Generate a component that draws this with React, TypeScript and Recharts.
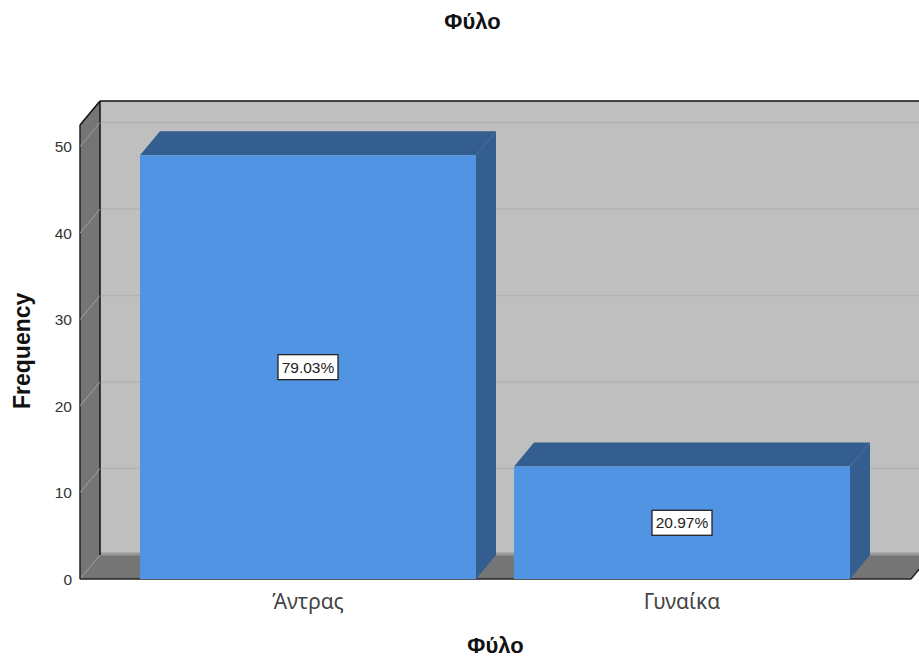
import {
  Bar,
  BarChart,
  LabelList,
  ReferenceArea,
  ReferenceLine,
  XAxis,
  YAxis,
} from "recharts";

const categories = ["Άντρας", "Γυναίκα"];
const frequencies = [49, 13];
const percentLabels = ["79.03%", "20.97%"];
const yTicks = [0, 10, 20, 30, 40, 50];
const yMax = 52.5;

const data = categories.map((name, i) => ({
  name,
  frequency: frequencies[i],
  percent: percentLabels[i],
}));

const FONT = '"Liberation Sans", Arial, sans-serif';
const TICK_FONT = '"Noto Sans", "Liberation Sans", sans-serif';
// depth of the fake 3D box
const DX = 20;
const DY = 24;
// category axis padding, the walls have to span it too
const PAD_LEFT = 41;
const PAD_RIGHT = 42;

function pts(list: number[][]) {
  return list.map((p) => p.join(",")).join(" ");
}

// walls and floor of the box
function Walls({ x: plotX, y, width: plotW, height }: any) {
  const x = plotX - PAD_LEFT;
  const right = plotX + plotW + PAD_RIGHT;
  const bottom = y + height;
  return (
    <g>
      <polygon
        points={pts([
          [x + DX, y - DY],
          [right + DX, y - DY],
          [right + DX, bottom - DY],
          [x + DX, bottom - DY],
        ])}
        fill="#bfbfbf"
      />
      <polygon
        points={pts([
          [x, y],
          [x + DX, y - DY],
          [x + DX, bottom - DY],
          [x, bottom],
        ])}
        fill="#757575"
      />
      <polygon
        points={pts([
          [x, bottom],
          [x + DX, bottom - DY],
          [right + DX, bottom - DY],
          [right, bottom],
        ])}
        fill="#757575"
      />
      <line x1={x + DX} x2={right + DX} y1={bottom - DY - 1} y2={bottom - DY - 1} stroke="#999" strokeWidth={3} />
      <line x1={x} x2={x + DX} y1={bottom} y2={bottom - DY} stroke="#9a9a9a" />
      <line x1={x + DX} x2={right + DX} y1={y - DY} y2={y - DY} stroke="#111" strokeWidth={1.5} />
      <line x1={x} x2={x + DX} y1={y} y2={y - DY} stroke="#111" strokeWidth={1.5} />
      <line x1={x} x2={x} y1={y} y2={bottom} stroke="#222" strokeWidth={1.5} />
      <line x1={x + DX} x2={x + DX} y1={y - DY} y2={bottom - DY} stroke="#111" strokeWidth={1.5} />
      <line x1={x} x2={right} y1={bottom} y2={bottom} stroke="#222" strokeWidth={1.5} />
      <line x1={right} x2={right + DX} y1={bottom} y2={bottom - DY} stroke="#222" strokeWidth={1.5} />
    </g>
  );
}

function GridLineShape({ x1, x2, y1 }: any) {
  return (
    <g>
      <line x1={x1} x2={x1 + DX} y1={y1} y2={y1 - DY} stroke="#a0a0a0" />
      <line x1={x1 + DX + 1} x2={x2 + DX} y1={y1 - DY} y2={y1 - DY} stroke="#b2b2b2" strokeWidth={1.5} />
    </g>
  );
}

function Box3D({ x, y, width, height }: any) {
  const right = x + width;
  const bottom = y + height;
  return (
    <g>
      <polygon
        points={pts([
          [x, y],
          [x + DX, y - DY],
          [right + DX, y - DY],
          [right, y],
        ])}
        fill="#345d90"
      />
      <polygon
        points={pts([
          [right, y],
          [right + DX, y - DY],
          [right + DX, bottom - DY],
          [right, bottom],
        ])}
        fill="#345d90"
      />
      <rect x={x} y={y} width={width} height={height} fill="#5294e4" />
    </g>
  );
}

function PercentBox({ x, y, width, height, value }: any) {
  const cx = x + width / 2;
  const cy = y + height / 2;
  return (
    <g>
      <rect x={cx - 30} y={cy - 12.5} width={60} height={25} fill="#fff" stroke="#222" strokeWidth={1.3} />
      <text x={cx} y={cy + 5.5} textAnchor="middle" fontFamily={FONT} fontSize={15.5} fill="#222">
        {value}
      </text>
    </g>
  );
}

export default function App() {
  return (
    <div style={{ position: "absolute", left: 0, top: 0, width: 919, height: 658, background: "#fff" }}>
      <div
        style={{
          position: "absolute",
          left: 0,
          width: 945,
          top: 9,
          textAlign: "center",
          fontFamily: FONT,
          fontWeight: "bold",
          fontSize: 22,
          color: "#111",
        }}
      >
        Φύλο
      </div>
      <BarChart
        width={919}
        height={658}
        data={data}
        margin={{ top: 125, right: 8, bottom: 0, left: 0 }}
        barSize={336}
      >
        <XAxis
          dataKey="name"
          padding={{ left: PAD_LEFT, right: PAD_RIGHT }}
          axisLine={false}
          tickLine={false}
          tickSize={0}
          tickMargin={15}
          height={79}
          tick={{ fill: "#444", fontSize: 21, fontFamily: TICK_FONT }}
          label={{
            value: "Φύλο",
            position: "insideBottom",
            offset: 0,
            dy: -5,
            style: { fontFamily: FONT, fontWeight: "bold", fontSize: 22, fill: "#111" },
          }}
        />
        <YAxis
          domain={[0, yMax]}
          ticks={yTicks}
          allowDataOverflow
          axisLine={false}
          tickLine={false}
          tickSize={0}
          tickMargin={8}
          width={80}
          tick={{ fill: "#333", fontSize: 15.5, fontFamily: FONT }}
          label={{
            value: "Frequency",
            angle: -90,
            position: "insideLeft",
            dx: 17,
            dy: 57,
            style: { fontFamily: FONT, fontWeight: "bold", fontSize: 23, fill: "#111" },
          }}
        />
        <ReferenceArea y1={0} y2={yMax} ifOverflow="visible" shape={Walls} />
        {yTicks.slice(1).map((t) => (
          <ReferenceLine key={t} y={t} ifOverflow="visible" shape={GridLineShape} zIndex={150} />
        ))}
        <Bar dataKey="frequency" shape={Box3D} isAnimationActive={false}>
          <LabelList dataKey="percent" content={PercentBox} />
        </Bar>
      </BarChart>
    </div>
  );
}
